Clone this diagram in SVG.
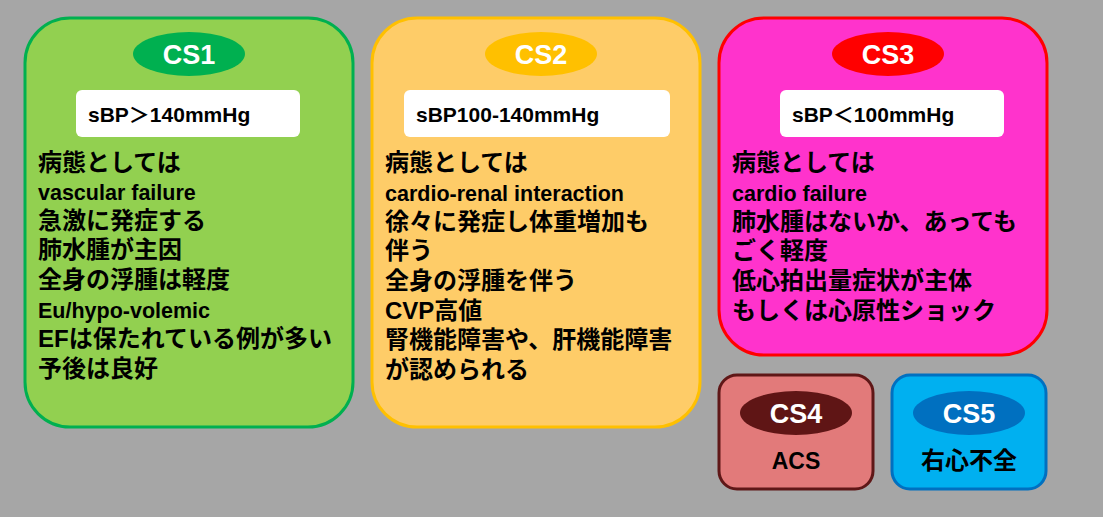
<svg xmlns="http://www.w3.org/2000/svg" width="1103" height="517" viewBox="0 0 1103 517">
<style>
text{font-family:"Liberation Sans","Noto Sans CJK JP",sans-serif;font-weight:bold;fill:#000}
.t{font-size:24px}
.l{font-size:21.5px}
.h{font-size:27px;fill:#fff;text-anchor:middle}
.s{font-size:21px}
.c{text-anchor:middle;font-size:23px}
.cj{text-anchor:middle;font-size:24px}
.box{stroke-width:3}
</style>
<rect width="1103" height="517" fill="#a6a6a6"/>
<g id="cs1">
<rect class="box" x="25" y="18" width="328" height="409" rx="45" fill="#92d050" stroke="#00b050"/>
<ellipse cx="189" cy="54" rx="56" ry="22" fill="#00b050"/>
<text class="h" x="189" y="64">CS1</text>
<rect x="76" y="90" width="224" height="47" rx="6" fill="#fff"/>
<text class="s" x="88" y="122">sBP＞140mmHg</text>
<text class="t" x="38" y="171">病態としては</text>
<text class="l" x="38" y="200">vascular failure</text>
<text class="t" x="38" y="229">急激に発症する</text>
<text class="t" x="38" y="258">肺水腫が主因</text>
<text class="t" x="38" y="288">全身の浮腫は軽度</text>
<text class="l" x="38" y="318">Eu/hypo-volemic</text>
<text class="t" x="38" y="347">EFは保たれている例が多い</text>
<text class="t" x="38" y="377">予後は良好</text>
</g>
<g id="cs2">
<rect class="box" x="372" y="18" width="328" height="409" rx="45" fill="#fecc68" stroke="#ffc000"/>
<ellipse cx="541" cy="54" rx="56" ry="22" fill="#ffc000"/>
<text class="h" x="541" y="64">CS2</text>
<rect x="404" y="90" width="266" height="47" rx="6" fill="#fff"/>
<text class="s" x="416" y="122">sBP100-140mmHg</text>
<text class="t" x="385" y="171">病態としては</text>
<text class="l" x="385" y="201">cardio-renal interaction</text>
<text class="t" x="385" y="230">徐々に発症し体重増加も</text>
<text class="t" x="385" y="259">伴う</text>
<text class="t" x="385" y="289">全身の浮腫を伴う</text>
<text class="t" x="385" y="319">CVP高値</text>
<text class="t" x="385" y="348">腎機能障害や、肝機能障害</text>
<text class="t" x="385" y="378">が認められる</text>
</g>
<g id="cs3">
<rect class="box" x="719" y="18" width="328" height="337" rx="45" fill="#ff33cc" stroke="#ff0000"/>
<ellipse cx="888" cy="54" rx="56" ry="22" fill="#ff0000"/>
<text class="h" x="888" y="64">CS3</text>
<rect x="780" y="90" width="224" height="47" rx="6" fill="#fff"/>
<text class="s" x="792" y="122">sBP＜100mmHg</text>
<text class="t" x="732" y="171">病態としては</text>
<text class="l" x="732" y="201">cardio failure</text>
<text class="t" x="732" y="230">肺水腫はないか、あっても</text>
<text class="t" x="732" y="259">ごく軽度</text>
<text class="t" x="732" y="289">低心拍出量症状が主体</text>
<text class="t" x="732" y="319">もしくは心原性ショック</text>
</g>
<g id="cs4">
<rect class="box" x="719" y="375" width="154" height="114" rx="18" fill="#e27a7a" stroke="#5f1717"/>
<ellipse cx="796" cy="413" rx="56" ry="22" fill="#5f1515"/>
<text class="h" x="796" y="423">CS4</text>
<text class="c" x="796" y="469">ACS</text>
</g>
<g id="cs5">
<rect class="box" x="892" y="375" width="154" height="114" rx="18" fill="#00b0f0" stroke="#0070c0"/>
<ellipse cx="969" cy="413" rx="56" ry="22" fill="#0070c0"/>
<text class="h" x="969" y="423">CS5</text>
<text class="cj" x="969" y="469">右心不全</text>
</g>
<g id="connectors"/>
</svg>
